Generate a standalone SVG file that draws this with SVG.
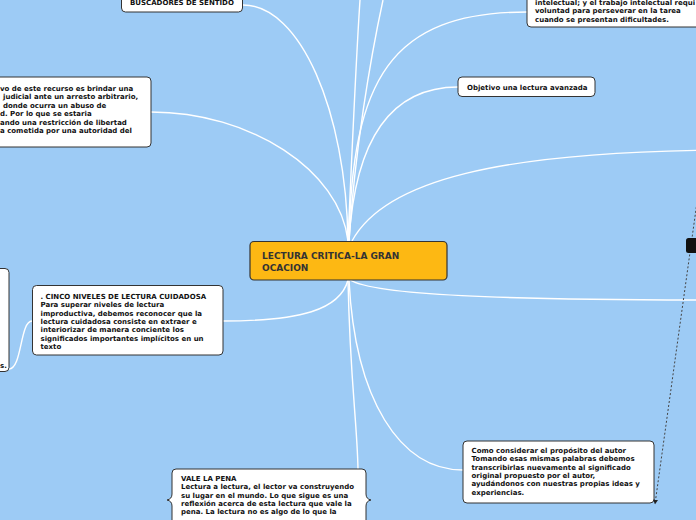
<svg xmlns="http://www.w3.org/2000/svg" width="696" height="520" viewBox="0 0 696 520">
<defs>
<style>
.bg{fill:#9dcbf5}
.node{fill:#ffffff;stroke:#333333;stroke-width:1}
.t{font-family:"DejaVu Sans",Verdana,sans-serif;font-weight:bold;font-size:7px;fill:#111111}
.ct{font-family:"DejaVu Sans",Verdana,sans-serif;font-weight:bold;font-size:9px;fill:#333333}
.c{fill:none;stroke:#ffffff;stroke-width:1.4}
.dot{fill:none;stroke:#444444;stroke-width:1;stroke-dasharray:2,2}
</style>
<marker id="arr" viewBox="0 0 10 10" refX="9" refY="5" markerWidth="5" markerHeight="5" orient="auto">
<path d="M0,0 L10,5 L0,10 z" fill="#222222"/>
</marker>
</defs>
<rect class="bg" x="0" y="0" width="696" height="520"/>
<g id="connectors">
<path class="c" d="M348,241 C346,110 300,5 243,5"/>
<path class="c" d="M348,241 C352,150 356,60 360,0"/>
<path class="c" d="M349,241 C355,150 370,60 383,0"/>
<path class="c" d="M349,241 C352,80 390,12 527,12"/>
<path class="c" d="M349,241 C355,140 390,87 458,87"/>
<path class="c" d="M352,241 C385,180 500,152 720,150"/>
<path class="c" d="M348,241 C340,170 250,112 151,112"/>
<path class="c" d="M350,280 C375,295 500,300 720,300"/>
<path class="c" d="M348,280 C340,310 300,321 223,321"/>
<path class="c" d="M348,280 C350,380 357,420 358,469"/>
<path class="c" d="M349,280 C355,400 400,470 463,470"/>
<path class="c" d="M32,321 C20,321 22,369 9,369"/>
<path class="dot" d="M698,195 L655,504" marker-end="url(#arr)"/>
</g>
<g id="node-center">
<rect x="250" y="241.5" width="197" height="38.5" rx="4" fill="#fdb813" stroke="#333333" stroke-width="1.2"/>
<text class="ct" x="262" y="259">LECTURA CRITICA-LA GRAN</text>
<text class="ct" x="262" y="270.5">OCACION</text>
</g>
<g id="node-buscadores">
<rect class="node" x="121.5" y="-10" width="121" height="22" rx="4"/>
<text class="t" x="130" y="5.3">BUSCADORES DE SENTIDO</text>
</g>
<g id="node-topright">
<rect class="node" x="527" y="-20" width="190" height="47" rx="4"/>
<text class="t" x="535" y="5">intelectual; y el trabajo intelectual requi</text>
<text class="t" x="535" y="13.4">voluntad para perseverar en la tarea</text>
<text class="t" x="535" y="21.8">cuando se presentan dificultades.</text>
</g>
<g id="node-left">
<rect class="node" x="-20" y="77" width="171" height="70" rx="4"/>
<text class="t" x="0" y="90.5">vo de este recurso es brindar una</text>
<text class="t" x="3" y="99">judicial ante un arresto arbitrario,</text>
<text class="t" x="3" y="107.5">donde ocurra un abuso de</text>
<text class="t" x="0" y="116">d. Por lo que se estaria</text>
<text class="t" x="0" y="124.5">ando una restricción de libertad</text>
<text class="t" x="0" y="133">a cometida por una autoridad del</text>
</g>
<g id="node-objetivo">
<rect class="node" x="458" y="77" width="137" height="19.5" rx="4"/>
<text class="t" x="467" y="89.5">Objetivo una lectura avanzada</text>
</g>
<g id="node-cinco">
<rect class="node" x="32.5" y="285.5" width="190.5" height="69.5" rx="4"/>
<text class="t" x="40.5" y="299">. CINCO NIVELES DE LECTURA CUIDADOSA</text>
<text class="t" x="40.5" y="307.3">Para superar niveles de lectura</text>
<text class="t" x="40.5" y="315.6">improductiva, debemos reconocer que la</text>
<text class="t" x="40.5" y="323.9">lectura cuidadosa consiste en extraer e</text>
<text class="t" x="40.5" y="332.2">interiorizar de manera conciente los</text>
<text class="t" x="40.5" y="340.5">significados importantes implícitos en un</text>
<text class="t" x="40.5" y="348.8">texto</text>
</g>
<g id="node-farleft">
<rect class="node" x="-20" y="268.5" width="29" height="103" rx="4"/>
<text class="t" x="0" y="368">s.</text>
</g>
<g id="node-como">
<rect class="node" x="463" y="441" width="191" height="62" rx="4"/>
<text class="t" x="471.5" y="453">Como considerar el propósito del autor</text>
<text class="t" x="471.5" y="461.3">Tomando esas mismas palabras debemos</text>
<text class="t" x="471.5" y="469.6">transcribirlas nuevamente al significado</text>
<text class="t" x="471.5" y="477.9">original propuesto por el autor,</text>
<text class="t" x="471.5" y="486.2">ayudándonos con nuestras propias ideas y</text>
<text class="t" x="471.5" y="494.5">experiencias.</text>
</g>
<g id="node-vale">
<path class="node" d="M176,469 L362,469 Q366,469 366,473 L366,494 Q366,499 371,500 Q366,501 366,506 L366,530 L172,530 L172,506 Q172,501 167,500 Q172,499 172,494 L172,473 Q172,469 176,469 Z"/>
<text class="t" x="181" y="481">VALE LA PENA</text>
<text class="t" x="181" y="489.3">Lectura a lectura, el lector va construyendo</text>
<text class="t" x="181" y="497.6">su lugar en el mundo. Lo que sigue es una</text>
<text class="t" x="181" y="505.9">reflexión acerca de esta lectura que vale la</text>
<text class="t" x="181" y="514.2">pena. La lectura no es algo de lo que la</text>
</g>
<g id="node-black">
<rect x="686" y="238" width="20" height="15" rx="2.5" fill="#111111"/>
</g>
</svg>
